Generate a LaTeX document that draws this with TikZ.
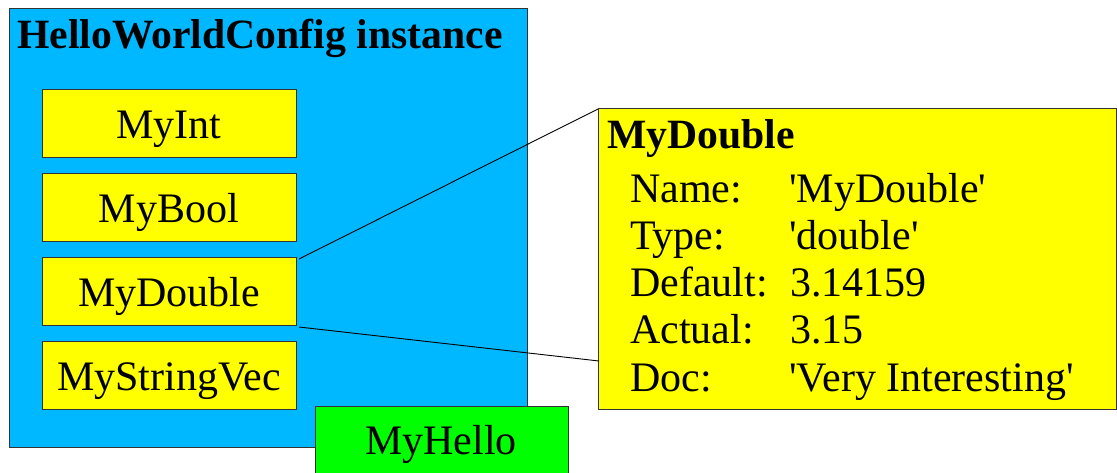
\documentclass[tikz,border=0pt]{standalone}
\usepackage{fontspec}
\setmainfont{Liberation Serif}
\definecolor{cfgblue}{RGB}{0,184,255}
\definecolor{fyellow}{RGB}{255,255,0}
\definecolor{fgreen}{RGB}{0,255,0}
\newcommand{\sq}{\textquotesingle}
\begin{document}
\begin{tikzpicture}[x=1pt,y=-1pt,
  box/.style={draw=black!80,line width=1pt},
  txt/.style={inner sep=0pt,font=\fontsize{42}{48}\selectfont},
  btxt/.style={inner sep=0pt,font=\fontsize{41.7}{48}\selectfont\bfseries},
  link/.style={draw=black,line width=0.9pt}]
\useasboundingbox (0,0) rectangle (1117,472);
% blue container
\path[box,fill=cfgblue] (9,8) rectangle (527,447);
\node[btxt,anchor=base west] (title) at (17,48) {HelloWorldConfig instance};
% field boxes
\path[box,fill=fyellow] (42,89) rectangle (296,157);
\node[txt,anchor=base] (myint) at (169,138) {MyInt};
\path[box,fill=fyellow] (42,173) rectangle (296,241);
\node[txt,anchor=base] (mybool) at (169,222) {MyBool};
\path[box,fill=fyellow] (42,257) rectangle (296,325);
\node[txt,anchor=base] (mydouble) at (169,306) {MyDouble};
\path[box,fill=fyellow] (42,341) rectangle (296,409);
\node[txt,anchor=base] (mysv) at (169,390) {MyStringVec};
% green box
\path[box,fill=fgreen] (315,406) rectangle (568,475);
\node[txt,anchor=base] (myhello) at (441,454) {MyHello};
% detail box
\path[box,fill=fyellow] (598,108) rectangle (1116,409);
\coordinate (dA) at (299,259);
\coordinate (dB) at (299,327);
\coordinate (eA) at (598,109);
\coordinate (eB) at (599,361);
\draw[link] (dA) -- (eA);
\draw[link] (dB) -- (eB);
\node[btxt,anchor=base west] (dtitle) at (607,148) {MyDouble};
\node[txt,anchor=base west] (k1) at (630,202) {Name:};
\node[txt,anchor=base west] (v1) at (789,202) {\sq MyDouble\sq};
\node[txt,anchor=base west] (k2) at (630,249) {Type:};
\node[txt,anchor=base west] (v2) at (789,249) {\sq double\sq};
\node[txt,anchor=base west] (k3) at (630,296) {Default:};
\node[txt,anchor=base west] (v3) at (790,296) {3.14159};
\node[txt,anchor=base west] (k4) at (630,343) {Actual:};
\node[txt,anchor=base west] (v4) at (790,343) {3.15};
\node[txt,anchor=base west] (k5) at (630,391) {Doc:};
\node[txt,anchor=base west] (v5) at (789,391) {\sq Very Interesting\sq};
\end{tikzpicture}
\end{document}
